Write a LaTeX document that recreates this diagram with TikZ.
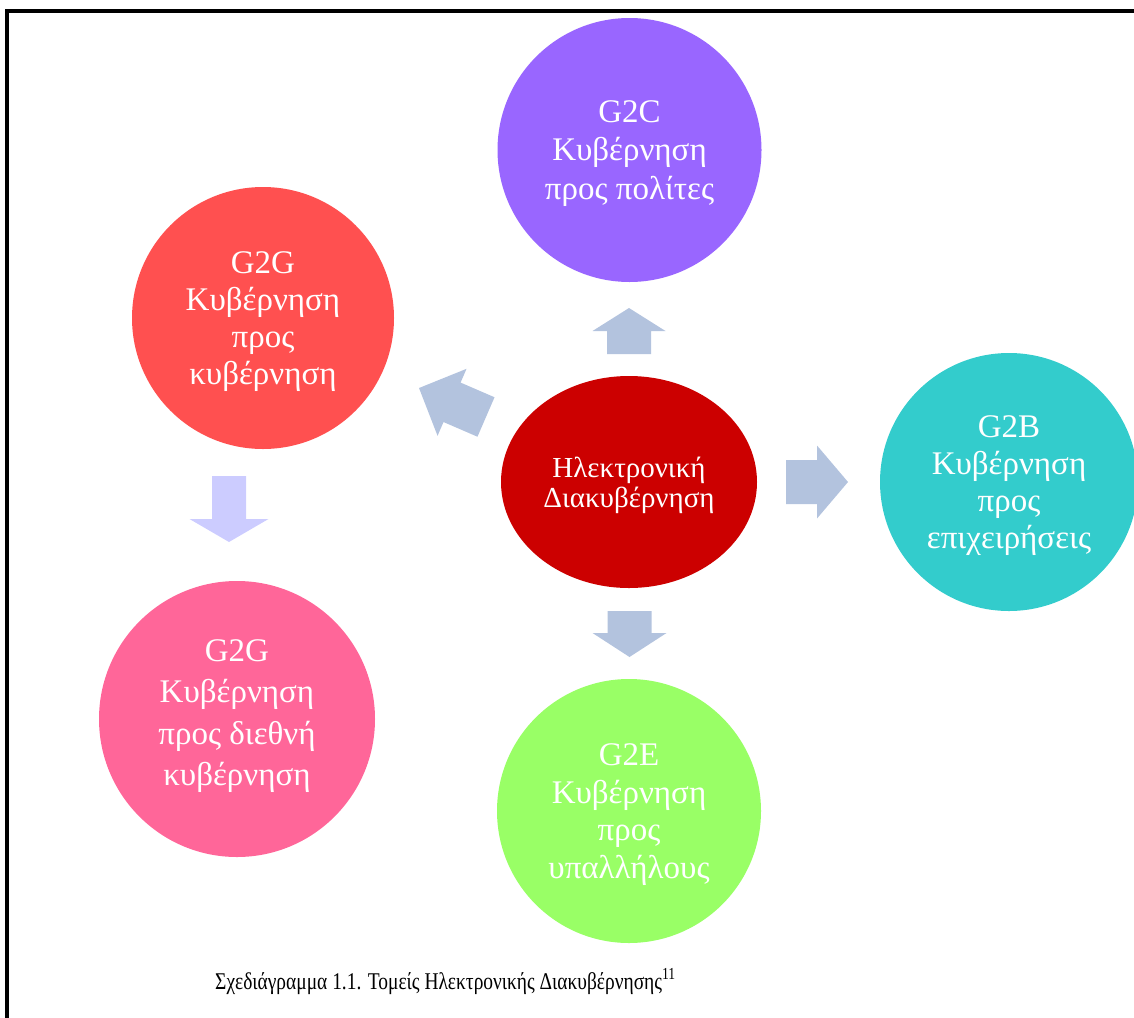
\documentclass[tikz,border=0pt]{standalone}
\usepackage{fontspec}
\setmainfont{Liberation Serif}
\newfontfamily\captionfont[FakeStretch=0.81]{Liberation Serif}
\usepackage{xcolor}
\usetikzlibrary{shapes.geometric, positioning, calc}

\definecolor{egovred}{HTML}{CC0000}
\definecolor{gcoral}{HTML}{FF5050}
\definecolor{gpurple}{HTML}{9966FF}
\definecolor{gteal}{HTML}{33CCCC}
\definecolor{ggreen}{HTML}{99FF66}
\definecolor{gpink}{HTML}{FF6699}
\definecolor{arrowblue}{HTML}{B3C3DE}
\definecolor{arrowlav}{HTML}{CCCCFF}

% block arrow: colour, centre, angle, length, head length, shaft half width, head half width
\newcommand{\blockarrow}[7]{%
  \fill[#1, shift={#2}, rotate=#3]
    ({-#4/2},{-#6}) -- ({#4/2-#5},{-#6}) -- ({#4/2-#5},{-#7}) -- ({#4/2},0)
    -- ({#4/2-#5},{#7}) -- ({#4/2-#5},{#6}) -- ({-#4/2},{#6}) -- cycle;}

\begin{document}
\begin{tikzpicture}[x=1pt, y=-1pt]
        \tikzstyle{sector} = [circle, minimum size=264pt, inner sep=0pt, text=white, align=center, text depth=-5pt, font=\fontsize{33}{37}\selectfont]
        \tikzstyle{hub} = [ellipse, minimum width=256pt, minimum height=212pt, inner sep=0pt, fill=egovred, text=white, align=center, text depth=0pt, font=\fontsize{29}{30}\selectfont]

        \useasboundingbox (0,0) rectangle (1134,1017);
        \draw[line width=3.5pt] (7,1200) -- (7,11) -- (1200,11);

        % Centre
        \node (egov) [hub] at (629,482) {Ηλεκτρονική\\Διακυβέρνηση};

        % Sectors
        \node (g2c) [sector, fill=gpurple, font=\fontsize{33}{38.5}\selectfont] at (629.5,150) {G2C\\Κυβέρνηση\\προς πολίτες};
        \node (g2g) [sector, fill=gcoral, minimum size=262pt] at (263,318) {G2G\\Κυβέρνηση\\προς\\κυβέρνηση};
        \node (g2b) [sector, fill=gteal, minimum size=258pt] at (1009,482) {G2B\\Κυβέρνηση\\προς\\επιχειρήσεις};
        \node (g2e) [sector, fill=ggreen, font=\fontsize{33}{37.7}\selectfont] at (629,811) {G2E\\Κυβέρνηση\\προς\\υπαλλήλους};
        \node (g2i) [sector, fill=gpink, minimum size=276pt, text depth=13pt, font=\fontsize{33}{41.5}\selectfont] at (237,719) {G2G\\Κυβέρνηση\\προς διεθνή\\κυβέρνηση};

        % Arrows
        \blockarrow{arrowblue}{(629,331)}{90}{46}{23}{22}{36.5}
        \blockarrow{arrowblue}{(817,482)}{0}{62}{31}{22}{36.5}
        \blockarrow{arrowblue}{(629.5,634)}{-90}{46}{24}{22}{37}
        \blockarrow{arrowblue}{(452.5,402.5)}{156.6}{73}{36}{21.5}{36.5}
        \blockarrow{arrowlav}{(229,509)}{-90}{66}{23}{17}{39.5}

        % Caption
        \node (caption) [anchor=base west, inner sep=0pt, font=\captionfont\fontsize{24}{28}\selectfont] at (215,989) {Σχεδιάγραμμα 1.1. Τομείς Ηλεκτρονικής Διακυβέρνησης\textsuperscript{11}};
    \end{tikzpicture}
\end{document}
